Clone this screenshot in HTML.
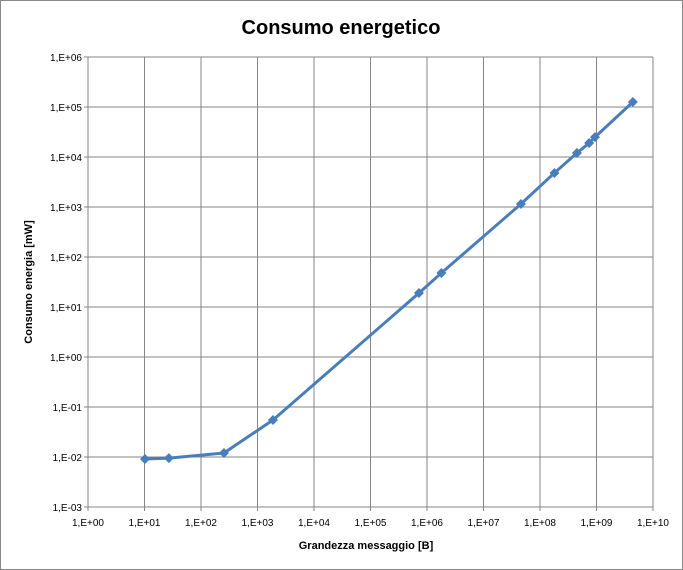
<!DOCTYPE html>
<html><head><meta charset="utf-8"><style>
html,body{margin:0;padding:0;background:#fff}
svg{display:block;font-family:"Liberation Sans",sans-serif}
</style></head><body>
<svg id="chart" width="683" height="570">
<rect x="0.5" y="0.5" width="682" height="569" fill="#fff" stroke="#888"/>
<text x="341" y="34" text-anchor="middle" font-size="20" font-weight="bold">Consumo energetico</text>
<g id="grid"></g><g id="axes"></g><g id="series"></g>
<text x="366" y="549" text-anchor="middle" font-size="11" font-weight="bold">Grandezza messaggio  [B]</text>
<text transform="translate(32,282) rotate(-90)" text-anchor="middle" font-size="11" font-weight="bold">Consumo energia [mW]</text>
</svg>
<script>
const xValues=[10.2,27,255,1880,720000,1.8e6,4.6e7,1.8e8,4.5e8,7.4e8,9.4e8,4.4e9];
const yValues=[0.0091,0.0095,0.012,0.055,19,48,1150,4800,12000,19000,25000,126000];
const xTickExps=[0,1,2,3,4,5,6,7,8,9,10];
const yTickExps=[-3,-2,-1,0,1,2,3,4,5,6];
const X0=88,X1=653,Y0=507,Y1=57;
const xs=v=>X0+(Math.log10(v)-0)/10*(X1-X0);
const ys=v=>Y0-(Math.log10(v)+3)/9*(Y0-Y1);
const NS="http://www.w3.org/2000/svg";
function mk(t,a,p){const e=document.createElementNS(NS,t);for(const k in a)e.setAttribute(k,a[k]);p.appendChild(e);return e;}
const grid=document.getElementById('grid'),axes=document.getElementById('axes'),ser=document.getElementById('series');
const lbl=e=>"1,E"+(e<0?"-":"+")+String(Math.abs(e)).padStart(2,"0");
xTickExps.forEach(e=>{const x=xs(Math.pow(10,e));
 const l=mk('line',{x1:x,x2:x,y1:Y1,y2:Y0+4,stroke:'#868686','stroke-width':1},grid);
 
 
 const t=mk('text',{x:x,y:Y0+19,'text-anchor':'middle','font-size':10},axes);t.textContent=e===10?"1,E+10":lbl(e);
 
 });
yTickExps.forEach(e=>{const y=ys(Math.pow(10,e));
 const l=mk('line',{x1:X0-4,x2:X1,y1:y,y2:y,stroke:'#868686','stroke-width':1},grid);
 
 
 const t=mk('text',{x:X0-6,y:y+4,'text-anchor':'end','font-size':10},axes);t.textContent=lbl(e);
 
 });
const pts=xValues.map((v,i)=>[xs(v),ys(yValues[i])]);
const pl=mk('polyline',{points:pts.map(p=>p.join(',')).join(' '),fill:'none',stroke:'#4a7ebb','stroke-width':3,'stroke-linejoin':'round'},ser);


pts.forEach(p=>{const d=mk('polygon',{points:`${p[0]},${p[1]-5} ${p[0]+5},${p[1]} ${p[0]},${p[1]+5} ${p[0]-5},${p[1]}`,fill:'#4a7ebb'},ser);
 
 });
</script>
</body></html>
